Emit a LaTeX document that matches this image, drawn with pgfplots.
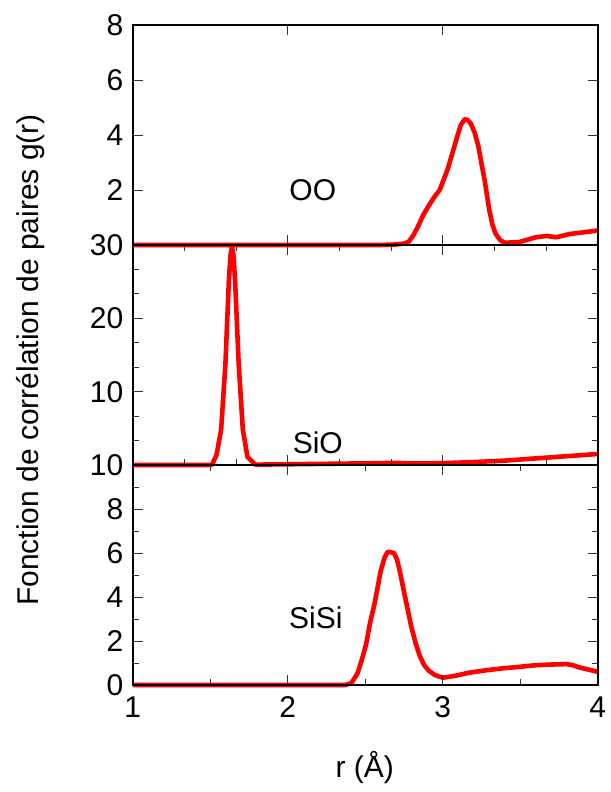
\documentclass[border=0pt]{standalone}
\usepackage{pgfplots}
\pgfplotsset{compat=1.18}
\usepackage{fontspec}
\setmainfont{Liberation Sans}
\begin{document}
\pgfplotsset{panel/.style={
  scale only axis, width=465pt, height=220pt,
  xmin=1, xmax=4, xtick={1,2,3,4},
  axis line style={line width=1.6pt, black},
  tick style={line width=0.8pt, black!80},
  major tick length=10pt, minor tick length=6pt,
  tick align=inside, clip=false, axis on top,
  ticklabel style={font=\fontsize{30}{36}\selectfont},
  /pgf/number format/assume math mode=true,
  yticklabel style={xshift=-6pt},
  xticklabel style={yshift=-8pt},
}, curve/.style={red, line width=4.6pt, line join=round, mark=none}}
\begin{tikzpicture}
\useasboundingbox (0,0) rectangle (608pt,-792pt);
% bottom: SiSi
\begin{axis}[panel, at={(130pt,-685pt)}, anchor=south west,
  ymin=0, ymax=10, ytick={0,2,4,6,8,10}, minor tick num=1,
  xticklabels={1,2,3,4}]
\addplot[curve] coordinates {(1,0) (2.37,0) (2.41,0.08) (2.45,0.53) (2.48,1.2) (2.507,1.9) (2.53,2.8) (2.56,3.7) (2.60,5.2) (2.625,5.8) (2.645,6.06) (2.685,6.0) (2.705,5.7) (2.725,5.1) (2.745,4.4) (2.77,3.56) (2.795,2.7) (2.825,1.9) (2.85,1.35) (2.88,0.9) (2.91,0.65) (2.95,0.45) (3.0,0.33) (3.08,0.42) (3.17,0.56) (3.28,0.67) (3.39,0.76) (3.50,0.83) (3.60,0.9) (3.70,0.93) (3.80,0.95) (3.84,0.9) (3.88,0.8) (3.94,0.7) (4.0,0.6)};
\end{axis}
% middle: SiO
\begin{axis}[panel, at={(130pt,-465pt)}, anchor=south west,
  ymin=0, ymax=30, ytick={0,10,20,30}, yticklabels={,10,20,30}, minor tick num=2,
  xticklabels={}]
\addplot[curve] coordinates {(1,0) (1.51,0) (1.54,1.36) (1.57,4.8) (1.598,13.9) (1.62,25.2) (1.63,28.5) (1.64,29.8) (1.65,28.5) (1.66,25.2) (1.683,13.9) (1.71,4.8) (1.74,1.1) (1.79,0.05) (2.0,0.1) (2.2,0.15) (2.4,0.2) (2.6,0.25) (2.7,0.3) (2.8,0.2) (3.0,0.25) (3.2,0.4) (3.4,0.6) (3.6,0.9) (3.8,1.2) (4.0,1.5)};
\end{axis}
% top: OO
\begin{axis}[panel, at={(130pt,-245pt)}, anchor=south west,
  ymin=0, ymax=8, ytick={0,2,4,6,8}, yticklabels={,2,4,6,8},
  xticklabels={}]
\addplot[curve] coordinates {(1,0) (2.6,0) (2.7,0.02) (2.75,0.05) (2.78,0.12) (2.81,0.35) (2.84,0.67) (2.87,1.05) (2.905,1.39) (2.94,1.7) (2.98,2.0) (3.03,2.73) (3.06,3.3) (3.09,3.88) (3.115,4.35) (3.14,4.57) (3.16,4.55) (3.18,4.42) (3.205,4.1) (3.23,3.58) (3.25,2.95) (3.27,2.36) (3.30,1.27) (3.32,0.75) (3.34,0.42) (3.37,0.18) (3.40,0.08) (3.495,0.11) (3.60,0.28) (3.67,0.33) (3.73,0.28) (3.82,0.40) (3.99,0.52) (4.0,0.53)};
\end{axis}
\node[font=\fontsize{30}{36}\selectfont] at (310pt,-190pt) {OO};
\node[font=\fontsize{30}{36}\selectfont] at (315pt,-443pt) {SiO};
\node[font=\fontsize{30}{36}\selectfont] at (313pt,-618pt) {SiSi};
\node[rotate=90, font=\fontsize{30}{36}\selectfont] at (28pt,-360pt) {Fonction de corrélation de paires g(r)};
\node[font=\fontsize{30}{36}\selectfont] at (362pt,-768pt) {r (Å)};
\end{tikzpicture}
\end{document}
